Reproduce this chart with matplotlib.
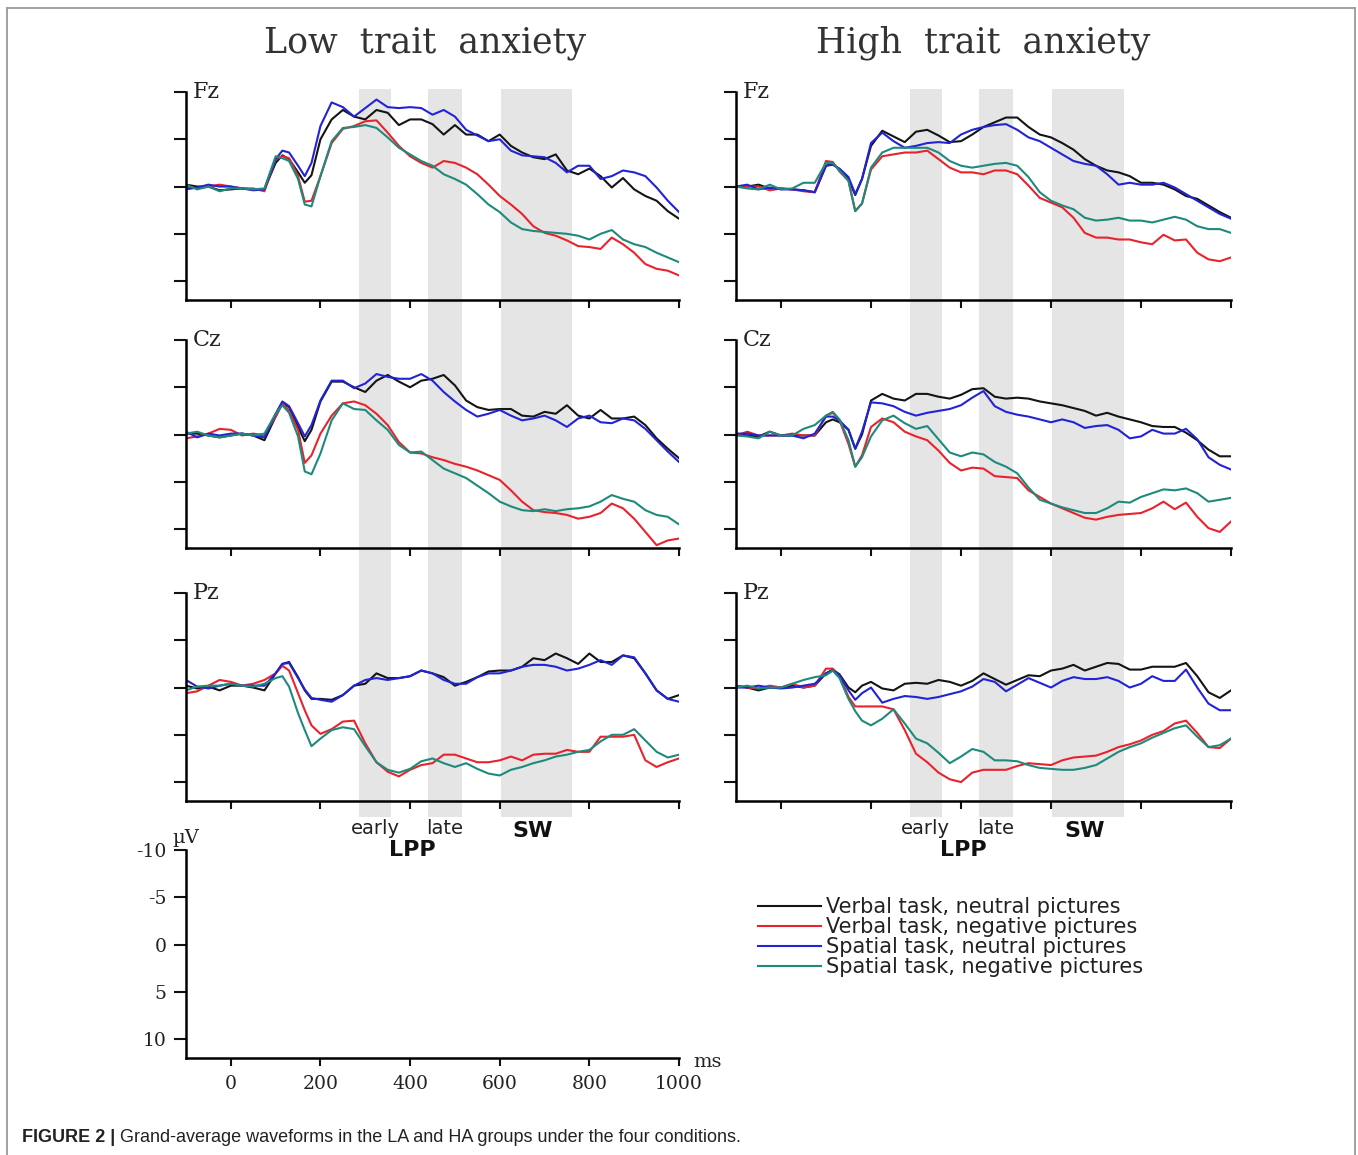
import matplotlib
matplotlib.use('Agg')
import matplotlib.pyplot as plt
from matplotlib.lines import Line2D
from matplotlib.transforms import blended_transform_factory

plt.rcParams['axes.unicode_minus'] = False

# sample times (ms), values in microvolts (negative plotted up)
times = [-100, -75, -50, -25, 0, 25, 50, 75, 100, 115, 130, 150, 165, 180] + list(range(200, 1001, 25))

# ---- Fz, low trait anxiety
fz_low_vneu = [-0.2, 0.0, 0.0, 0.4, 0.3, 0.2, 0.3, 0.3,
               -2.5, -3.3, -2.9, -1.5, -0.4, -1.2,
               -5.0, -7.1, -8.1, -7.4, -7.1, -8.1, -7.8, -6.5, -7.1, -7.1, -6.6, -5.5, -6.5, -5.5, -5.5, -4.8,
               -5.5, -4.3, -3.6, -3.1, -2.9, -3.4, -1.7, -1.3, -1.9, -1.1, 0.1, -0.9, 0.3, 1.0, 1.5, 2.6, 3.4]
fz_low_vneg = [0.0, 0.2, 0.0, -0.2, 0.0, 0.2, 0.2, 0.5,
               -2.9, -3.2, -3.0, -1.1, 1.6, 1.5,
               -1.1, -4.6, -6.1, -6.4, -6.9, -7.0, -5.7, -4.3, -3.2, -2.5, -2.0, -2.7, -2.5, -2.0, -1.3, -0.2,
               1.0, 1.9, 2.9, 4.2, 4.9, 5.2, 5.7, 6.3, 6.4, 6.6, 5.4, 6.1, 7.0, 8.2, 8.7, 8.9, 9.4]
fz_low_sneu = [0.3, 0.1, -0.2, 0.0, 0.0, 0.2, 0.4, 0.3,
               -2.9, -3.8, -3.6, -2.2, -1.1, -2.5,
               -6.4, -8.9, -8.4, -7.4, -8.3, -9.2, -8.4, -8.3, -8.4, -8.3, -7.6, -8.1, -7.4, -6.0, -5.4, -4.8,
               -5.0, -3.8, -3.3, -3.2, -3.1, -2.5, -1.5, -2.2, -2.2, -0.8, -1.1, -1.7, -1.5, -1.1, 0.1, 1.5, 2.7]
fz_low_sneg = [-0.2, 0.3, 0.0, 0.5, 0.2, 0.2, 0.3, 0.2,
               -3.2, -3.0, -2.7, -0.8, 1.9, 2.1,
               -1.1, -4.8, -6.2, -6.3, -6.5, -6.2, -5.2, -4.1, -3.4, -2.7, -2.2, -1.3, -0.8, -0.2, 0.8, 1.9,
               2.7, 3.8, 4.5, 4.7, 4.8, 4.9, 5.0, 5.2, 5.6, 5.0, 4.6, 5.6, 6.1, 6.4, 7.0, 7.5, 8.0]

# ---- Fz, high trait anxiety
fz_high_vneu = [0.0, 0.0, -0.2, 0.2, 0.2, 0.3, 0.4, 0.6,
                -2.2, -2.4, -1.8, -0.8, 0.9, -0.8,
                -4.3, -5.9, -5.3, -4.7, -5.8, -6.0, -5.4, -4.7, -4.8, -5.5, -6.3, -6.8, -7.3, -7.3, -6.3, -5.5,
                -5.2, -4.6, -3.9, -2.9, -2.2, -1.7, -1.5, -1.1, -0.4, -0.4, -0.2, 0.3, 1.0, 1.3, 2.0, 2.7, 3.3]
fz_high_vneg = [0.0, 0.0, 0.0, 0.4, 0.2, 0.3, 0.5, 0.6,
                -2.7, -2.6, -1.6, -0.6, 2.6, 1.8,
                -1.8, -3.2, -3.4, -3.6, -3.6, -3.8, -2.9, -2.0, -1.5, -1.5, -1.3, -1.7, -1.7, -1.3, -0.1, 1.2,
                1.7, 2.2, 3.3, 4.9, 5.4, 5.4, 5.6, 5.6, 5.9, 6.1, 5.1, 5.7, 5.6, 7.0, 7.7, 7.9, 7.5]
fz_high_sneu = [0.0, -0.2, 0.3, 0.1, 0.3, 0.3, 0.4, 0.6,
                -2.2, -2.3, -1.9, -1.0, 0.8, -0.8,
                -4.6, -5.7, -4.8, -4.1, -4.3, -4.6, -4.7, -4.6, -5.5, -6.0, -6.3, -6.5, -6.6, -6.0, -5.2, -4.8,
                -4.1, -3.4, -2.7, -2.4, -2.2, -1.3, -0.2, -0.4, -0.2, -0.2, -0.4, 0.1, 0.8, 1.5, 2.2, 2.9, 3.4]
fz_high_sneg = [0.0, 0.2, 0.3, -0.2, 0.3, 0.2, -0.4, -0.4,
                -2.5, -2.5, -1.7, -0.6, 2.6, 1.8,
                -2.0, -3.6, -4.1, -4.1, -4.1, -4.1, -3.6, -2.7, -2.2, -2.0, -2.2, -2.4, -2.5, -2.2, -1.0, 0.6,
                1.5, 2.0, 2.4, 3.3, 3.6, 3.5, 3.3, 3.6, 3.6, 3.8, 3.5, 3.2, 3.5, 4.2, 4.5, 4.5, 4.9]

# ---- Cz, low trait anxiety
cz_low_vneu = [-0.1, -0.1, 0.1, 0.3, 0.1, -0.1, 0.1, 0.6,
               -1.9, -3.3, -2.9, -0.8, 0.7, -0.5,
               -3.5, -5.6, -5.6, -5.0, -4.5, -5.7, -6.3, -5.6, -5.0, -5.7, -5.9, -6.3, -5.2, -3.6, -2.9, -2.6,
               -2.7, -2.7, -2.0, -1.9, -2.4, -2.2, -3.1, -2.0, -1.7, -2.6, -1.7, -1.7, -1.9, -1.0, 0.4, 1.5, 2.5]
cz_low_vneg = [0.4, 0.2, -0.1, -0.6, -0.5, 0.1, -0.1, 0.1,
               -1.9, -3.3, -2.5, -0.5, 3.0, 2.2,
               -0.1, -2.0, -3.3, -3.5, -3.1, -2.2, -1.0, 0.8, 1.9, 2.0, 2.4, 2.7, 3.1, 3.4, 3.8, 4.3,
               4.8, 5.9, 7.1, 8.0, 8.2, 8.3, 8.5, 8.9, 8.7, 8.3, 7.3, 7.8, 8.9, 10.3, 11.7, 11.2, 11.0]
cz_low_sneu = [-0.3, 0.3, -0.1, 0.1, -0.1, -0.1, 0.1, 0.3,
               -2.2, -3.5, -3.0, -1.2, 0.2, -1.0,
               -3.6, -5.7, -5.7, -4.9, -5.4, -6.4, -6.1, -5.9, -5.9, -6.4, -5.7, -4.5, -3.5, -2.6, -1.9, -2.2,
               -2.6, -2.0, -1.5, -1.7, -2.0, -1.5, -0.8, -1.7, -2.0, -1.3, -1.2, -1.7, -1.5, -0.6, 0.6, 1.8, 2.9]
cz_low_sneg = [-0.1, -0.3, 0.1, 0.3, 0.1, -0.1, 0.1, -0.1,
               -2.2, -3.1, -2.3, 0.2, 3.9, 4.2,
               2.0, -1.5, -3.3, -2.7, -2.6, -1.5, -0.5, 1.1, 1.9, 1.8, 2.7, 3.6, 4.1, 4.6, 5.4, 6.2,
               7.1, 7.6, 8.0, 8.1, 7.9, 8.1, 7.9, 7.8, 7.6, 7.1, 6.4, 6.8, 7.1, 8.0, 8.5, 8.7, 9.5]

# ---- Cz, high trait anxiety
cz_high_vneu = [-0.1, 0.1, 0.2, -0.3, 0.1, 0.1, 0.1, 0.1,
                -1.3, -1.6, -1.3, -0.5, 1.5, 0.0,
                -3.6, -4.3, -3.8, -3.6, -4.3, -4.3, -4.0, -3.8, -4.2, -4.8, -4.9, -4.0, -3.8, -3.9, -3.8, -3.5,
                -3.3, -3.1, -2.8, -2.5, -2.0, -2.3, -1.9, -1.6, -1.3, -0.9, -0.8, -0.8, -0.2, 0.6, 1.6, 2.3, 2.3]
cz_high_vneg = [0.1, -0.3, 0.1, 0.1, 0.1, -0.1, 0.1, 0.1,
                -2.0, -2.3, -1.5, 1.0, 3.4, 2.2,
                -0.8, -1.7, -1.3, -0.3, 0.2, 0.6, 1.7, 3.0, 3.8, 3.5, 3.6, 4.4, 4.5, 4.6, 5.9, 6.6,
                7.3, 7.8, 8.3, 8.8, 9.0, 8.7, 8.5, 8.4, 8.3, 7.8, 7.1, 7.9, 7.2, 8.7, 9.9, 10.3, 9.2]
cz_high_sneu = [-0.1, -0.1, 0.1, 0.1, 0.1, 0.1, 0.4, -0.1,
                -1.9, -1.9, -1.5, -0.5, 1.5, -0.3,
                -3.4, -3.3, -3.0, -2.4, -2.0, -2.3, -2.5, -2.7, -3.1, -3.9, -4.6, -3.0, -2.4, -2.1, -1.9, -1.6,
                -1.3, -1.6, -1.3, -0.7, -0.9, -1.0, -0.5, 0.4, 0.2, -0.5, -0.1, -0.1, -0.6, 0.5, 2.4, 3.2, 3.7]
cz_high_sneg = [0.1, 0.2, 0.4, -0.3, 0.1, 0.1, -0.6, -1.0,
                -2.0, -2.4, -1.6, 0.6, 3.4, 2.4,
                0.2, -1.5, -2.0, -1.2, -0.6, -0.9, 0.5, 1.9, 2.3, 1.9, 2.1, 2.9, 3.4, 4.1, 5.6, 6.9,
                7.3, 7.7, 8.0, 8.3, 8.3, 7.8, 7.1, 7.2, 6.6, 6.2, 5.8, 5.9, 5.7, 6.2, 7.1, 6.9, 6.7]

# ---- Pz, low trait anxiety
pz_low_vneu = [-0.2, 0.1, -0.1, 0.3, -0.2, -0.2, 0.0, 0.3,
               -1.5, -2.5, -2.7, -1.1, 0.3, 1.2,
               1.2, 1.3, 0.8, -0.2, -0.4, -1.5, -1.0, -1.0, -1.2, -1.8, -1.5, -1.1, -0.2, -0.6, -1.1, -1.7,
               -1.8, -1.8, -2.2, -3.1, -2.9, -3.6, -3.1, -2.5, -3.6, -2.7, -2.7, -3.4, -3.1, -1.5, 0.3, 1.2, 0.8]
pz_low_vneg = [0.6, 0.4, -0.2, -0.8, -0.6, -0.2, -0.4, -0.8,
               -1.5, -2.3, -1.8, 0.6, 2.4, 4.0,
               4.9, 4.4, 3.6, 3.5, 5.9, 7.9, 8.9, 9.4, 8.7, 8.2, 8.0, 7.1, 7.1, 7.5, 7.9, 7.9,
               7.7, 7.3, 7.7, 7.1, 7.0, 7.0, 6.6, 6.8, 6.8, 5.2, 5.2, 5.2, 5.0, 7.7, 8.4, 7.9, 7.5]
pz_low_sneu = [-0.8, -0.1, 0.1, -0.2, -0.4, -0.2, -0.2, -0.2,
               -1.5, -2.5, -2.6, -1.0, 0.2, 1.1,
               1.3, 1.5, 0.8, -0.2, -0.8, -1.0, -0.8, -1.0, -1.2, -1.8, -1.5, -0.8, -0.4, -0.4, -1.1, -1.5,
               -1.5, -1.8, -2.2, -2.4, -2.4, -2.2, -1.8, -2.0, -2.4, -2.9, -2.4, -3.4, -3.2, -1.5, 0.3, 1.2, 1.5]
pz_low_sneg = [0.3, -0.1, -0.2, -0.2, -0.4, -0.2, -0.1, -0.4,
               -1.0, -1.2, -0.1, 2.7, 4.5, 6.2,
               5.4, 4.5, 4.2, 4.4, 6.2, 7.9, 8.7, 9.0, 8.6, 7.8, 7.5, 8.0, 8.4, 8.0, 8.6, 9.1,
               9.3, 8.7, 8.4, 8.0, 7.7, 7.3, 7.1, 6.8, 6.6, 5.7, 5.0, 5.0, 4.4, 5.6, 6.8, 7.4, 7.1]

# ---- Pz, high trait anxiety
pz_high_vneu = [-0.2, 0.0, 0.3, 0.0, 0.0, -0.2, 0.0, -0.2,
                -1.5, -1.9, -1.4, 0.0, 0.5, -0.2,
                -0.6, 0.1, 0.3, -0.4, -0.5, -0.4, -0.8, -0.6, -0.2, -0.7, -1.5, -0.9, -0.3, -0.8, -1.3, -1.2,
                -1.8, -2.0, -2.4, -1.8, -2.2, -2.6, -2.5, -1.9, -1.9, -2.2, -2.2, -2.2, -2.6, -1.2, 0.5, 1.1, 0.3]
pz_high_vneg = [-0.2, 0.0, 0.1, -0.2, 0.0, -0.4, 0.0, -0.2,
                -2.0, -2.0, -1.2, 1.0, 2.0, 2.0,
                2.0, 2.0, 2.3, 4.5, 7.0, 7.9, 9.0, 9.7, 10.0, 9.0, 8.7, 8.7, 8.7, 8.3, 8.0, 8.1,
                8.2, 7.7, 7.4, 7.3, 7.2, 6.8, 6.3, 6.0, 5.6, 5.0, 4.6, 3.8, 3.5, 4.8, 6.3, 6.4, 5.4]
pz_high_sneu = [0.0, 0.0, -0.2, 0.0, 0.1, 0.0, -0.2, -0.4,
                -1.5, -1.8, -1.3, 0.3, 1.3, 0.6,
                0.0, 1.6, 1.2, 0.9, 1.0, 1.2, 1.0, 0.7, 0.4, -0.1, -0.9, -0.6, 0.4, -0.3, -1.0, -0.5,
                0.0, -0.7, -1.1, -0.9, -0.9, -1.1, -0.7, 0.0, -0.4, -1.2, -0.7, -0.7, -1.9, 0.0, 1.7, 2.4, 2.4]
pz_high_sneg = [0.0, -0.2, 0.1, 0.0, 0.0, -0.4, -0.8, -1.1,
                -1.3, -1.8, -1.0, 1.2, 2.5, 3.5,
                4.0, 3.3, 2.3, 3.8, 5.4, 5.9, 6.9, 8.0, 7.3, 6.5, 6.8, 7.7, 7.7, 7.8, 8.2, 8.5,
                8.6, 8.7, 8.7, 8.5, 8.2, 7.5, 6.8, 6.3, 5.9, 5.3, 4.8, 4.3, 4.0, 5.2, 6.3, 6.1, 5.4]

cond_labels = ['Verbal task, neutral pictures', 'Verbal task, negative pictures',
               'Spatial task, neutral pictures', 'Spatial task, negative pictures']
cond_colors = ['#141414', '#e8232b', '#2323d6', '#1e8a7c']

group_titles = ['Low  trait  anxiety', 'High  trait  anxiety']
electrodes = ['Fz', 'Cz', 'Pz']
windows = [(286, 357), (440, 515), (602, 762)]   # early LPP, late LPP, SW
x_ticks = [0, 200, 400, 600, 800, 1000]
y_ticks = [-10, -5, 0, 5, 10]
y_tick_labels = ['-10', '-5', '0', '5', '10']

panels = [
    [[fz_low_vneu, fz_low_vneg, fz_low_sneu, fz_low_sneg],
     [fz_high_vneu, fz_high_vneg, fz_high_sneu, fz_high_sneg]],
    [[cz_low_vneu, cz_low_vneg, cz_low_sneu, cz_low_sneg],
     [cz_high_vneu, cz_high_vneg, cz_high_sneu, cz_high_sneg]],
    [[pz_low_vneu, pz_low_vneg, pz_low_sneu, pz_low_sneg],
     [pz_high_vneu, pz_high_vneg, pz_high_sneu, pz_high_sneg]],
]

W, H = 1358, 1155
fig = plt.figure(figsize=(W / 100, H / 100), dpi=100)

col_left = [186, 736]
col_width = [493, 495]
row_top = [92, 340, 593]
panel_h = 208
scale_top = 850


def add_ax(left, top, width, height):
    return fig.add_axes([left / W, 1 - (top + height) / H, width / W, height / H])


def style_ax(ax, labels=False):
    ax.set_xlim(-100, 1000)
    ax.set_ylim(12, -10)
    ax.patch.set_visible(False)
    ax.spines['top'].set_visible(False)
    ax.spines['right'].set_visible(False)
    ax.spines['left'].set_linewidth(1.8)
    ax.spines['bottom'].set_linewidth(1.8)
    ax.set_xticks(x_ticks)
    ax.set_yticks(y_ticks)
    ax.tick_params(direction='out', width=1.5, color='#111111',
                   labelcolor='#222222', labelsize=13.5)
    ax.tick_params(axis='y', length=9, pad=5)
    ax.tick_params(axis='x', length=6, pad=6)
    if labels:
        ax.set_yticklabels(y_tick_labels, family='DejaVu Serif')
        ax.set_xticklabels([str(t) for t in x_ticks], family='DejaVu Serif')
    else:
        ax.set_xticklabels([])
        ax.set_yticklabels([])


handles = None
for r in range(3):
    for c in range(2):
        ax = add_ax(col_left[c], row_top[r], col_width[c], panel_h)
        style_ax(ax)
        if r == 0:
            # gray analysis windows span all three rows
            for w0, w1 in windows:
                ax.axvspan(w0, w1, ymin=-(817 - 300) / panel_h, ymax=1 + 3 / panel_h,
                           color='#e5e5e5', lw=0, zorder=0, clip_on=False)
            ax.text(0.485 if c == 0 else 0.5, 1 + 49 / panel_h, group_titles[c],
                    transform=ax.transAxes, ha='center', va='center',
                    family='DejaVu Serif', fontsize=25, color='#333333')
        lines = []
        for vals, col in zip(panels[r][c], cond_colors):
            ln, = ax.plot(times, vals, color=col, lw=1.5, zorder=2)
            lines.append(ln)
        if handles is None:
            handles = lines
        ax.text(0.013, 1.0, electrodes[r], transform=ax.transAxes, ha='left', va='center',
                family='DejaVu Serif', fontsize=16, color='#222222')
        if r == 2:
            tr = blended_transform_factory(ax.transData, ax.transAxes)
            (e0, e1), (l0, l1), (s0, s1) = windows
            ax.text((e0 + e1) / 2, -0.13, 'early', transform=tr, ha='center', va='center',
                    fontsize=14, color='#222222')
            ax.text((l0 + l1) / 2, -0.13, 'late', transform=tr, ha='center', va='center',
                    fontsize=14, color='#222222')
            ax.text((s0 + s1) / 2 - 8, -0.145, 'SW', transform=tr, ha='center', va='center',
                    fontsize=16, weight='bold', color='#111111')
            ax.text((e0 + e1 + l0 + l1) / 4 + 6, -0.235, 'LPP', transform=tr, ha='center',
                    va='center', fontsize=16, weight='bold', color='#111111')

# scale panel
ax_s = add_ax(col_left[0], scale_top, col_width[0], panel_h)
style_ax(ax_s, labels=True)
ax_s.text(-0.028, 1.015, '\u00b5V', transform=ax_s.transAxes, ha='left', va='bottom',
          family='DejaVu Serif', fontsize=14, color='#222222')
ax_s.text(1.03, -0.02, 'ms', transform=ax_s.transAxes, ha='left', va='center',
          family='DejaVu Serif', fontsize=14, color='#222222')

fig.legend(handles, cond_labels, loc='upper left', bbox_to_anchor=(758 / W, 1 - 897 / H),
           frameon=False, fontsize=15, handlelength=3.0, handletextpad=0.25,
           labelspacing=0.0, borderpad=0, borderaxespad=0, labelcolor='#222222')

# frame lines around the figure panel
for xs, ys in [([7, 7], [1155, 8]), ([7, 1355], [8, 8]), ([1355, 1355], [8, 1155])]:
    fig.add_artist(Line2D([x / W for x in xs], [1 - y / H for y in ys],
                          color='#9a9a9a', lw=1.3, transform=fig.transFigure))

t1 = fig.text(22 / W, 1 - 1138 / H, 'FIGURE 2 |', family='Liberation Sans', weight='bold',
              fontsize=13, va='center', color='#222222')
ax_s.annotate(' Grand-average waveforms in the LA and HA groups under the four conditions.',
              xy=(1, 0.5), xycoords=t1, ha='left', va='center', family='Liberation Sans',
              fontsize=13, color='#222222', annotation_clip=False)

fig.savefig('out.png', dpi=100)
